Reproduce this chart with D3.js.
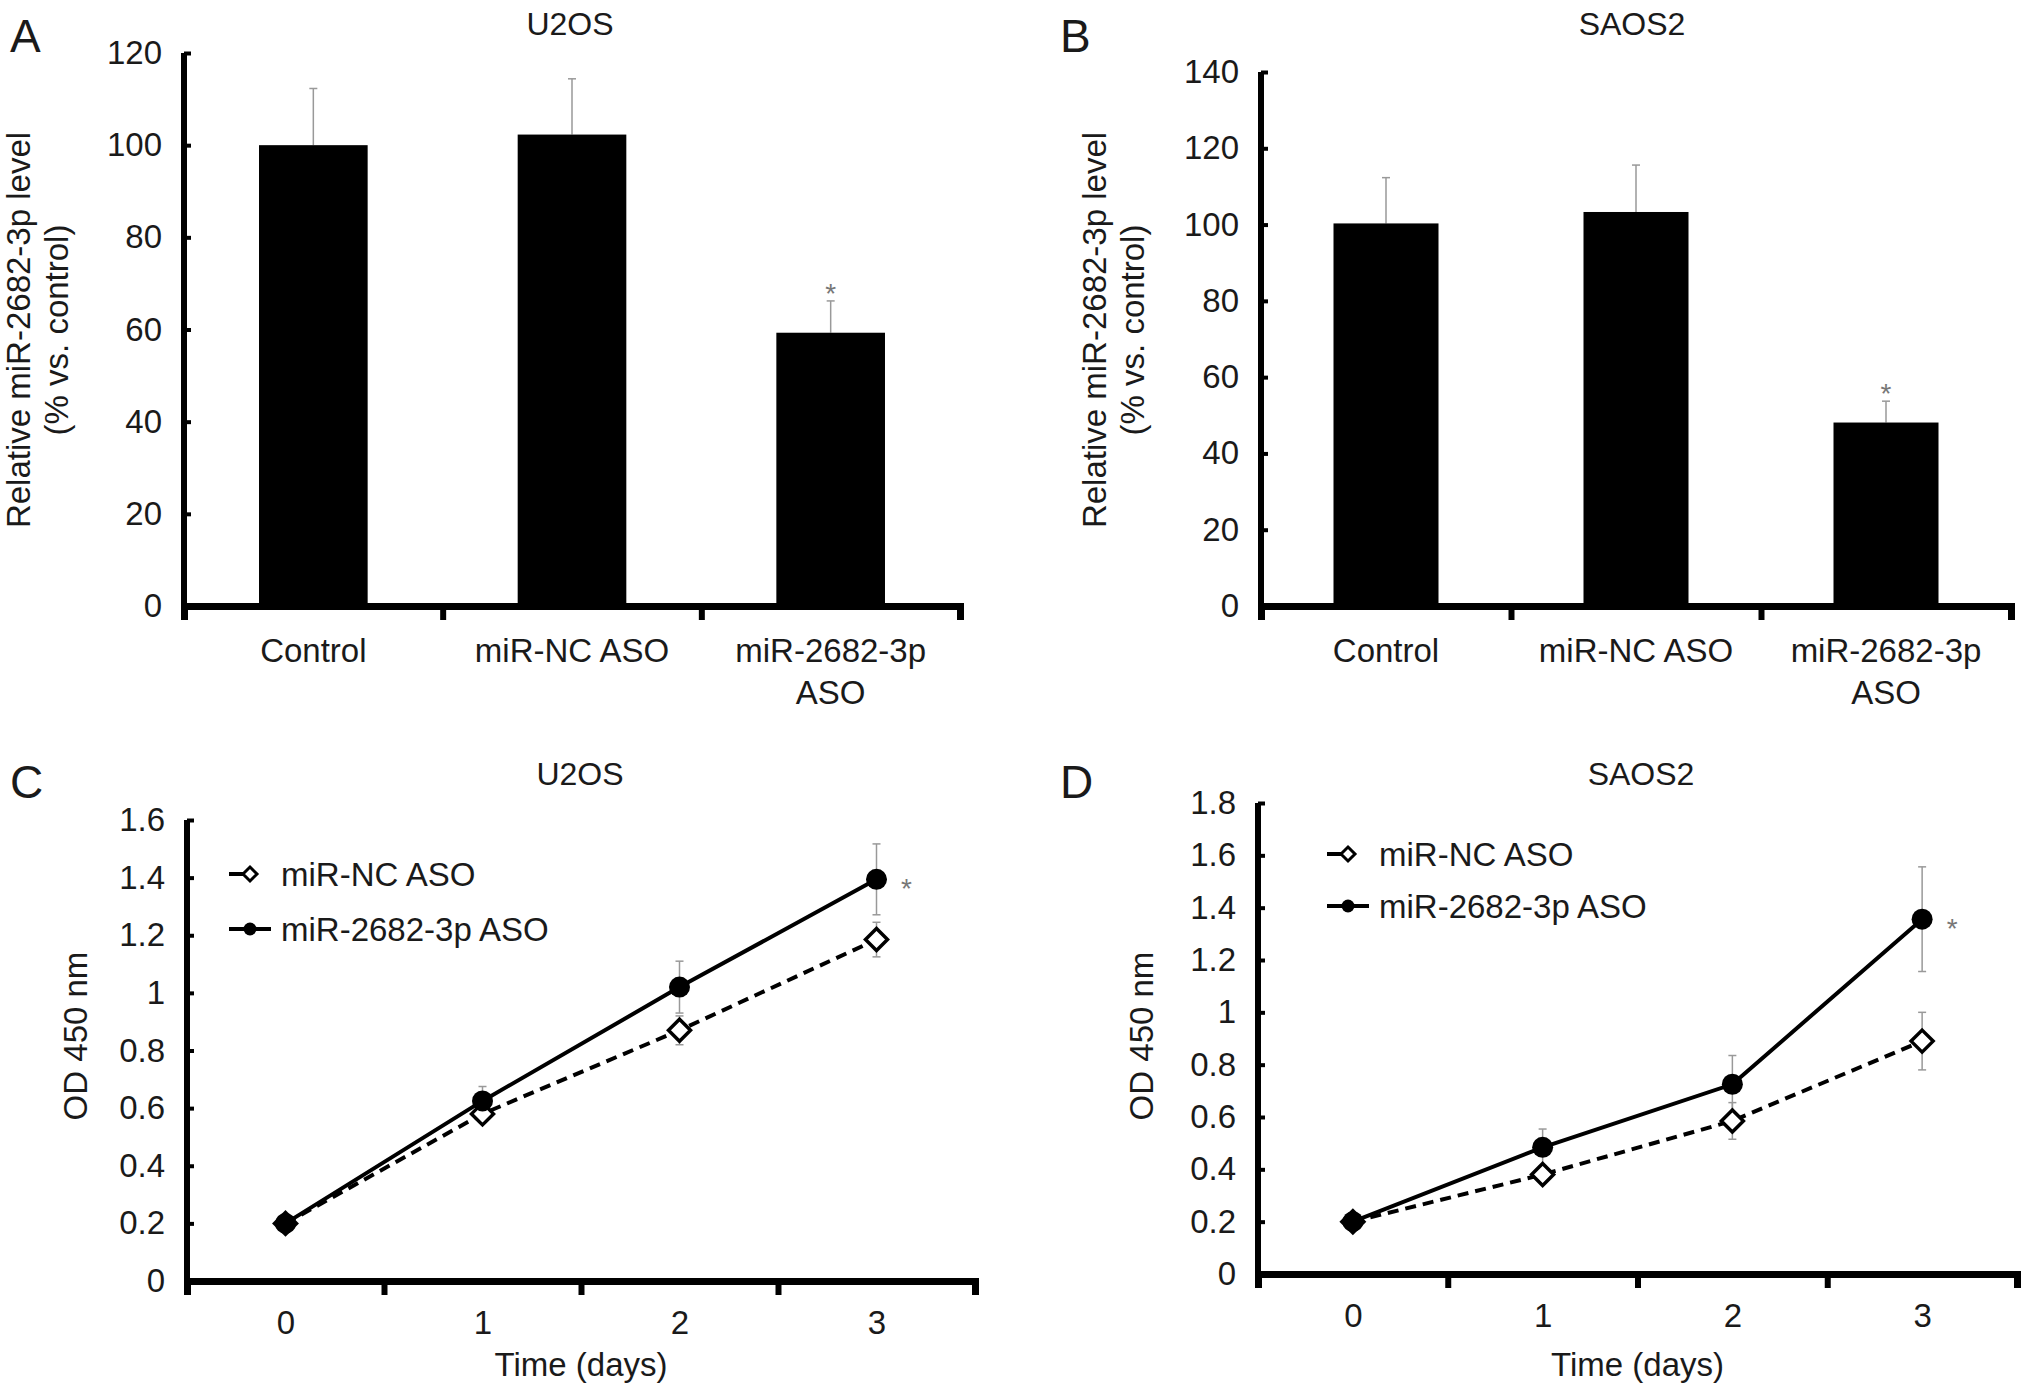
<!DOCTYPE html>
<html>
<head>
<meta charset="utf-8">
<script src="https://cdn.jsdelivr.net/npm/d3@7"></script>
<style>
  body { margin: 0; background: #fff; }
  text { font-family: "Liberation Sans", Arial, sans-serif; fill: #1a1a1a; }
</style>
</head>
<body>
<script>
const width = 2031;
const height = 1396;

// bar panels (A, B)
const groups = ["Control", "miR-NC ASO", "miR-2682-3p ASO"];
const u2osLevel = [100, 102.3, 59.3];
const u2osLevelErr = [12.3, 12.1, 6.9];
const saos2Level = [100.3, 103.3, 48.1];
const saos2LevelErr = [12.0, 12.3, 5.6];

// line panels (C, D)
const days = [0, 1, 2, 3];
const u2osNC = [0.2, 0.58, 0.87, 1.185];
const u2osNCErr = [0.01, 0.02, 0.05, 0.06];
const u2osASO = [0.2, 0.625, 1.02, 1.394];
const u2osASOErr = [0.01, 0.05, 0.09, 0.123];
const saos2NC = [0.2, 0.38, 0.585, 0.89];
const saos2NCErr = [0.01, 0.02, 0.07, 0.11];
const saos2ASO = [0.2, 0.484, 0.725, 1.356];
const saos2ASOErr = [0.01, 0.07, 0.11, 0.2];

const svg = d3.select("body").append("svg")
  .attr("width", width)
  .attr("height", height);

function barPanel(opt) {
  const g = svg.append("g");
  const x = d3.scaleBand().domain(groups).range(opt.xr);
  const bounds = d3.scaleLinear().domain([0, 3]).range(opt.xr);
  const y = d3.scaleLinear().domain([0, opt.ymax]).range(opt.yr);
  const bw = x.bandwidth() * 0.42;

  // error bars (upper only)
  groups.forEach((c, i) => {
    const cx = x(c) + x.bandwidth() / 2;
    g.append("line")
      .attr("x1", cx).attr("x2", cx)
      .attr("y1", y(opt.vals[i])).attr("y2", y(opt.vals[i] + opt.errs[i]))
      .attr("stroke", "#999").attr("stroke-width", 1.5);
    g.append("line")
      .attr("x1", cx - 4).attr("x2", cx + 4)
      .attr("y1", y(opt.vals[i] + opt.errs[i])).attr("y2", y(opt.vals[i] + opt.errs[i]))
      .attr("stroke", "#999").attr("stroke-width", 1.5);
  });

  g.selectAll("rect.bar")
    .data(opt.vals)
    .enter()
    .append("rect")
    .attr("x", (d, i) => x(groups[i]) + x.bandwidth() / 2 - bw / 2)
    .attr("y", (d) => y(d))
    .attr("width", bw)
    .attr("height", (d) => y(0) - y(d))
    .attr("fill", "#000");

  // significance mark
  const last = groups.length - 1;
  g.append("text")
    .attr("x", x(groups[last]) + x.bandwidth() / 2)
    .attr("y", y(opt.vals[last] + opt.errs[last]) + 2)
    .attr("text-anchor", "middle")
    .style("font-size", "28px")
    .style("fill", "#777")
    .text("*");

  const yAxis = d3.axisLeft(y).ticks(opt.ymax / 20).tickSize(-7).tickPadding(22);
  const ya = g.append("g").attr("transform", "translate(" + opt.xr[0] + ",0)").call(yAxis);
  ya.select(".domain").attr("stroke-width", 6).attr("d", "M0," + (opt.yr[0] + 14) + "V" + opt.yr[1]);
  ya.selectAll(".tick line").attr("stroke-width", 4);
  ya.selectAll(".tick text").style("font-size", "33px").style("font-family", "Liberation Sans").attr("fill", "#1a1a1a");

  const xAxis = d3.axisBottom(bounds).tickValues([1, 2, 3]).tickSize(14).tickFormat("");
  const xa = g.append("g").attr("transform", "translate(0," + opt.yr[0] + ")").call(xAxis);
  xa.select(".domain").attr("stroke-width", 7);
  xa.selectAll(".tick line").attr("stroke-width", 6);

  // category labels (wrapped like the original)
  groups.forEach((c) => {
    const lines = c === "miR-2682-3p ASO" ? ["miR-2682-3p", "ASO"] : [c];
    lines.forEach((t, j) => {
      g.append("text")
        .attr("x", x(c) + x.bandwidth() / 2)
        .attr("y", 662 + j * 42)
        .attr("text-anchor", "middle")
        .style("font-size", "33px")
        .text(t);
    });
  });

  g.append("text")
    .attr("x", opt.titleX).attr("y", 35)
    .attr("text-anchor", "middle")
    .style("font-size", "32px")
    .text(opt.title);

  g.append("text")
    .attr("x", opt.letterX).attr("y", 52)
    .style("font-size", "46px")
    .text(opt.letter);

  ["Relative miR-2682-3p level", "(% vs. control)"].forEach((t, j) => {
    g.append("text")
      .attr("transform", "translate(" + (opt.labelX + j * 38) + ",330) rotate(-90)")
      .attr("text-anchor", "middle")
      .style("font-size", "33px")
      .text(t);
  });
}

function linePanel(opt) {
  const g = svg.append("g");
  const x = d3.scaleLinear().domain([-0.5, 3.5]).range(opt.xr);
  const y = d3.scaleLinear().domain([0, opt.ymax]).range(opt.yr);

  const series = [
    { vals: opt.nc, errs: opt.ncErr, dash: "11,7", marker: "diamond" },
    { vals: opt.aso, errs: opt.asoErr, dash: null, marker: "circle" }
  ];

  // error bars
  series.forEach((s) => {
    days.forEach((d, i) => {
      const lo = y(s.vals[i] - s.errs[i]);
      const hi = y(s.vals[i] + s.errs[i]);
      g.append("line").attr("x1", x(d)).attr("x2", x(d)).attr("y1", lo).attr("y2", hi)
        .attr("stroke", "#999").attr("stroke-width", 1.5);
      [lo, hi].forEach((yy) => {
        g.append("line").attr("x1", x(d) - 4).attr("x2", x(d) + 4).attr("y1", yy).attr("y2", yy)
          .attr("stroke", "#999").attr("stroke-width", 1.5);
      });
    });
  });

  const line = d3.line().x((d, i) => x(days[i])).y((d) => y(d));
  series.forEach((s) => {
    g.append("path")
      .datum(s.vals)
      .attr("d", line)
      .attr("fill", "none")
      .attr("stroke", "#000")
      .attr("stroke-width", 4)
      .attr("stroke-dasharray", s.dash);
  });

  const diamond = (cx, cy, r) => "M" + cx + "," + (cy - r) + "L" + (cx + r) + "," + cy +
    "L" + cx + "," + (cy + r) + "L" + (cx - r) + "," + cy + "Z";

  series.forEach((s) => {
    s.vals.forEach((v, i) => {
      if (s.marker === "circle") {
        g.append("circle").attr("cx", x(days[i])).attr("cy", y(v)).attr("r", 10.5).attr("fill", "#000");
      } else {
        g.append("path").attr("d", diamond(x(days[i]), y(v), 11))
          .attr("fill", "#fff").attr("stroke", "#000").attr("stroke-width", 3.5);
      }
    });
  });

  g.append("text")
    .attr("x", x(3) + 30).attr("y", y(opt.aso[3]) + 19)
    .attr("text-anchor", "middle")
    .style("font-size", "28px")
    .style("fill", "#777")
    .text("*");

  const yAxis = d3.axisLeft(y).tickValues(d3.range(0, opt.ymax + 0.01, 0.2))
    .tickFormat((d) => String(+d.toFixed(1)))
    .tickSize(-7).tickPadding(22);
  const ya = g.append("g").attr("transform", "translate(" + opt.xr[0] + ",0)").call(yAxis);
  ya.select(".domain").attr("stroke-width", 6).attr("d", "M0," + (opt.yr[0] + 14) + "V" + opt.yr[1]);
  ya.selectAll(".tick line").attr("stroke-width", 4);
  ya.selectAll(".tick text").style("font-size", "33px").style("font-family", "Liberation Sans").attr("fill", "#1a1a1a");

  const xTicks = d3.axisBottom(x).tickValues([0.5, 1.5, 2.5, 3.5]).tickSize(14).tickFormat("");
  const xa = g.append("g").attr("transform", "translate(0," + opt.yr[0] + ")").call(xTicks);
  xa.select(".domain").attr("stroke-width", 7);
  xa.selectAll(".tick line").attr("stroke-width", 6);

  const xLabels = d3.axisBottom(x).tickValues(days).tickFormat(d3.format("d")).tickSize(0).tickPadding(30);
  const xl = g.append("g").attr("transform", "translate(0," + opt.yr[0] + ")").call(xLabels);
  xl.select(".domain").remove();
  xl.selectAll(".tick text").style("font-size", "33px").style("font-family", "Liberation Sans").attr("fill", "#1a1a1a");

  g.append("text")
    .attr("x", (opt.xr[0] + opt.xr[1]) / 2).attr("y", 1376)
    .attr("text-anchor", "middle")
    .style("font-size", "33px")
    .text("Time (days)");

  g.append("text")
    .attr("x", opt.titleX).attr("y", 785)
    .attr("text-anchor", "middle")
    .style("font-size", "32px")
    .text(opt.title);

  g.append("text")
    .attr("x", opt.letterX).attr("y", 798)
    .style("font-size", "46px")
    .text(opt.letter);

  g.append("text")
    .attr("transform", "translate(" + opt.labelX + ",1036) rotate(-90)")
    .attr("text-anchor", "middle")
    .style("font-size", "33px")
    .text("OD 450 nm");

  // legend
  const names = ["miR-NC ASO", "miR-2682-3p ASO"];
  series.forEach((s, j) => {
    const ly = opt.legY + j * opt.legGap;
    g.append("line")
      .attr("x1", opt.legX).attr("x2", opt.legX + 42).attr("y1", ly).attr("y2", ly)
      .attr("stroke", "#000").attr("stroke-width", 4)
      .attr("stroke-dasharray", s.dash ? "14,6,4,20" : null);
    if (s.marker === "circle") {
      g.append("circle").attr("cx", opt.legX + 21).attr("cy", ly).attr("r", 6.5).attr("fill", "#000");
    } else {
      g.append("path").attr("d", diamond(opt.legX + 21, ly, 7))
        .attr("fill", "#fff").attr("stroke", "#000").attr("stroke-width", 3);
    }
    g.append("text")
      .attr("x", opt.legX + 52).attr("y", ly + 12)
      .style("font-size", "33px")
      .text(names[j]);
  });
}

barPanel({ xr: [184, 960], yr: [606, 53], ymax: 120, vals: u2osLevel, errs: u2osLevelErr,
  title: "U2OS", titleX: 570, letter: "A", letterX: 10, labelX: 30 });
barPanel({ xr: [1261, 2011], yr: [606, 72], ymax: 140, vals: saos2Level, errs: saos2LevelErr,
  title: "SAOS2", titleX: 1632, letter: "B", letterX: 1060, labelX: 1106 });
linePanel({ xr: [187, 975], yr: [1281, 820], ymax: 1.6, nc: u2osNC, ncErr: u2osNCErr,
  aso: u2osASO, asoErr: u2osASOErr, title: "U2OS", titleX: 580, letter: "C", letterX: 10,
  labelX: 87, legX: 229, legY: 874, legGap: 55 });
linePanel({ xr: [1258, 2017], yr: [1274, 803], ymax: 1.8, nc: saos2NC, ncErr: saos2NCErr,
  aso: saos2ASO, asoErr: saos2ASOErr, title: "SAOS2", titleX: 1641, letter: "D", letterX: 1060,
  labelX: 1153, legX: 1327, legY: 854, legGap: 52 });
</script>
</body>
</html>
